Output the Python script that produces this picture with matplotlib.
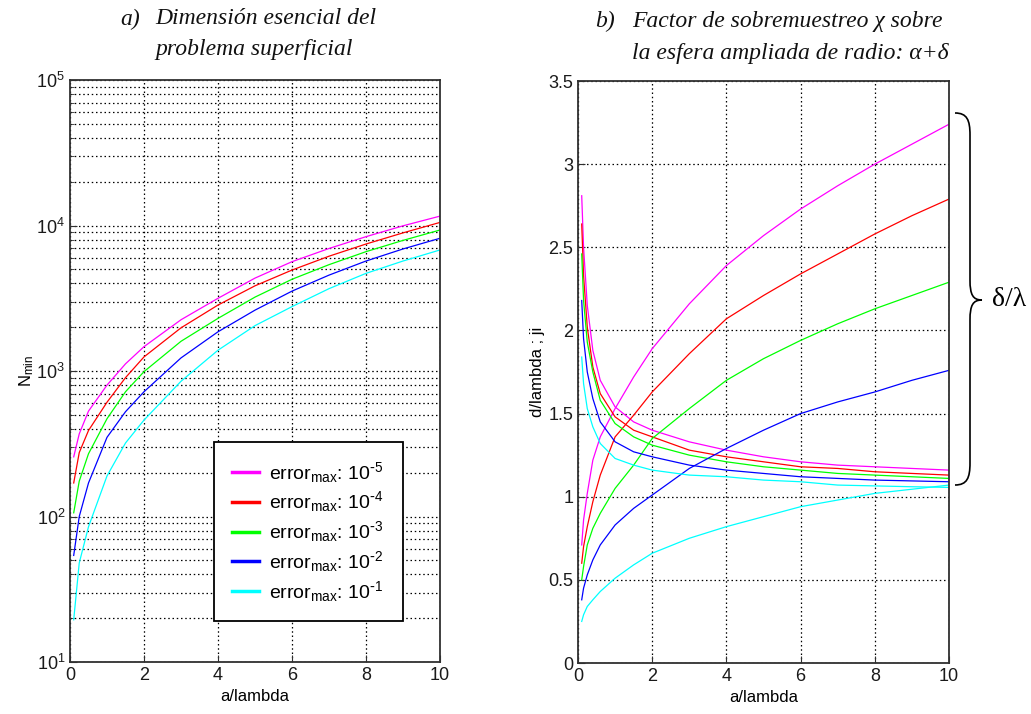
import math
import matplotlib
matplotlib.use('Agg')
import matplotlib.pyplot as plt
from matplotlib.path import Path
import matplotlib.patches as patches
from matplotlib.ticker import FixedLocator, LogLocator, NullFormatter, FuncFormatter

plt.rcParams['font.family'] = ['Liberation Sans', 'DejaVu Sans']
plt.rcParams['mathtext.default'] = 'regular'

# ── Data: panel a) N_min vs a/lambda (log scale) ──
a_left = [0.1, 0.25, 0.5, 1, 1.5, 2, 3, 4, 5, 6, 7, 8, 9, 10]
n_e5 = [257, 370, 530, 800, 1120, 1470, 2250, 3160, 4350, 5640, 6950, 8380, 9950, 11600]
n_e4 = [170, 275, 390, 610, 900, 1250, 1980, 2840, 3850, 4940, 6150, 7460, 8900, 10500]
n_e3 = [106, 175, 270, 470, 720, 990, 1600, 2300, 3220, 4270, 5380, 6610, 7900, 9310]
n_e2 = [54, 100, 170, 350, 525, 720, 1230, 1860, 2620, 3540, 4560, 5700, 6900, 8170]
n_e1 = [19.5, 48, 85, 190, 320, 460, 850, 1390, 2050, 2770, 3680, 4690, 5700, 6790]

# ── Data: panel b) delta/lambda (rising) and chi (falling) ──
a_right = [0.1, 0.15, 0.25, 0.4, 0.6, 1, 1.5, 2, 3, 4, 5, 6, 7, 8, 9, 10]
d_e5 = [0.71, 0.86, 1.02, 1.22, 1.36, 1.53, 1.72, 1.89, 2.16, 2.39, 2.57, 2.73, 2.87, 3.00, 3.12, 3.24]
d_e4 = [0.60, 0.70, 0.82, 0.97, 1.13, 1.36, 1.49, 1.63, 1.86, 2.07, 2.21, 2.34, 2.46, 2.58, 2.69, 2.79]
d_e3 = [0.50, 0.58, 0.71, 0.81, 0.90, 1.05, 1.19, 1.35, 1.53, 1.70, 1.83, 1.94, 2.04, 2.13, 2.21, 2.29]
d_e2 = [0.38, 0.45, 0.53, 0.62, 0.71, 0.83, 0.93, 1.01, 1.17, 1.29, 1.40, 1.50, 1.57, 1.63, 1.70, 1.76]
d_e1 = [0.25, 0.29, 0.34, 0.38, 0.43, 0.51, 0.59, 0.66, 0.75, 0.82, 0.88, 0.94, 0.98, 1.02, 1.045, 1.07]

chi_e5 = [2.81, 2.50, 2.15, 1.88, 1.70, 1.54, 1.45, 1.40, 1.33, 1.28, 1.24, 1.21, 1.19, 1.18, 1.17, 1.16]
chi_e4 = [2.64, 2.33, 2.02, 1.78, 1.62, 1.48, 1.40, 1.36, 1.28, 1.24, 1.21, 1.18, 1.17, 1.15, 1.14, 1.13]
chi_e3 = [2.46, 2.18, 1.93, 1.75, 1.58, 1.44, 1.36, 1.31, 1.25, 1.21, 1.18, 1.16, 1.14, 1.13, 1.12, 1.11]
chi_e2 = [2.18, 1.95, 1.75, 1.59, 1.45, 1.33, 1.27, 1.24, 1.19, 1.16, 1.14, 1.12, 1.11, 1.10, 1.095, 1.09]
chi_e1 = [1.84, 1.68, 1.53, 1.42, 1.32, 1.23, 1.19, 1.16, 1.13, 1.12, 1.10, 1.09, 1.07, 1.065, 1.06, 1.056]

exponents = [-5, -4, -3, -2, -1]
colors = ['#ff00ff', '#ff0000', '#00ff00', '#0000ff', '#00ffff']
x_ticks = [0, 2, 4, 6, 8, 10]
y_ticks_b = [0, 0.5, 1, 1.5, 2, 2.5, 3, 3.5]
y_ticklabels_b = ['0', '0.5', '1', '1.5', '2', '2.5', '3', '3.5']

# ── Figure ──
W, H = 1031, 714
fig = plt.figure(figsize=(W / 100, H / 100), dpi=100)
fig.patch.set_facecolor('white')

GRID = dict(color='black', linestyle=(0, (1.2, 2.2)), linewidth=0.9)
FS_TICK = 13


def px(x, y):
    return x / W, 1 - y / H


def style_axes(ax):
    for s in ax.spines.values():
        s.set_color('#303030')
        s.set_linewidth(1.3)
    ax.tick_params(which='both', direction='in', labelsize=FS_TICK, colors='#303030',
                   labelcolor='#1a1a1a', top=False, right=False)
    ax.tick_params(which='major', length=5)
    ax.tick_params(which='minor', length=3)
    ax.set_xlim(0, 10)
    ax.xaxis.set_major_locator(FixedLocator(x_ticks))
    ax.set_xticklabels([str(t) for t in x_ticks])
    ax.set_xlabel('a/lambda', fontsize=12, labelpad=4)


# ── Panel a) ──
ax1 = fig.add_axes([70 / W, 1 - 662 / H, 370 / W, 582 / H])
ax1.set_yscale('log')
series_a = [n_e5, n_e4, n_e3, n_e2, n_e1]
for vals, c, e in zip(series_a, colors, exponents):
    ax1.plot(a_left, vals, color=c, lw=0.9,
             label=r'error$_{max}$: 10$^{\text{-}%d}$' % abs(e))
ax1.set_ylim(10, 1e5)
ax1.yaxis.set_major_locator(LogLocator(base=10, numticks=10))
ax1.yaxis.set_minor_locator(LogLocator(base=10, subs=range(2, 10), numticks=50))
ax1.yaxis.set_minor_formatter(NullFormatter())
ax1.yaxis.set_major_formatter(FuncFormatter(lambda v, p: r'$10^{%d}$' % round(math.log10(v))))
ax1.grid(True, which='major', axis='both', **GRID)
ax1.grid(True, which='minor', axis='y', **GRID)
style_axes(ax1)
ax1.set_ylabel(r'N$_{min}$', fontsize=12, labelpad=0)

leg = ax1.legend(loc='lower left', bbox_to_anchor=(0.39, 0.07, 0.51, 0.30), mode='expand',
                 fontsize=14, handlelength=1.4, handletextpad=0.5, labelspacing=0.25,
                 borderpad=0.9, fancybox=False, framealpha=1, borderaxespad=0)
leg.get_frame().set_edgecolor('black')
leg.get_frame().set_linewidth(1.3)
for h in leg.get_lines():
    h.set_linewidth(2.5)

# ── Panel b) ──
ax2 = fig.add_axes([578 / W, 1 - 663 / H, 371 / W, 582 / H])
series_d = [d_e5, d_e4, d_e3, d_e2, d_e1]
series_chi = [chi_e5, chi_e4, chi_e3, chi_e2, chi_e1]
for d, chi, c in zip(series_d, series_chi, colors):
    ax2.plot(a_right, d, color=c, lw=0.9)
    ax2.plot(a_right, chi, color=c, lw=0.9)
ax2.set_ylim(0, 3.5)
ax2.yaxis.set_major_locator(FixedLocator(y_ticks_b))
ax2.set_yticklabels(y_ticklabels_b)
ax2.grid(True, which='major', **GRID)
style_axes(ax2)
ax2.set_ylabel('d/lambda ; ji', fontsize=12, labelpad=2)

# ── Titles ──
TFONT = dict(family='Liberation Serif', style='italic', fontsize=17, color='#111111', va='center')
fig.text(*px(120, 19), 'a)', **TFONT)
fig.text(*px(155, 19), 'Dimensión esencial del', **TFONT)
fig.text(*px(155, 49), 'problema superficial', **TFONT)
fig.text(*px(595, 21), 'b)', **TFONT)
fig.text(*px(632, 21), 'Factor de sobremuestreo χ sobre', **TFONT)
fig.text(*px(632, 53), 'la esfera ampliada de radio: α+δ', **TFONT)

# ── Brace with δ/λ ──
ov = fig.add_axes([0, 0, 1, 1], facecolor='none')
ov.set_xlim(0, W)
ov.set_ylim(H, 0)
ov.axis('off')
verts = [(955, 113), (967, 113), (970, 120), (970, 135),
         (970, 280),
         (970, 295), (973, 300), (982, 300),
         (973, 300), (970, 305), (970, 320),
         (970, 463),
         (970, 478), (967, 485), (955, 485)]
codes = [Path.MOVETO, Path.CURVE4, Path.CURVE4, Path.CURVE4,
         Path.LINETO,
         Path.CURVE4, Path.CURVE4, Path.CURVE4,
         Path.CURVE4, Path.CURVE4, Path.CURVE4,
         Path.LINETO,
         Path.CURVE4, Path.CURVE4, Path.CURVE4]
ov.add_patch(patches.PathPatch(Path(verts, codes), facecolor='none', edgecolor='black', lw=1.2))
ov.text(1009, 300, 'δ/λ', family='Liberation Serif', fontsize=20, ha='center', va='center')

fig.savefig('out.png', dpi=100, facecolor='white')
